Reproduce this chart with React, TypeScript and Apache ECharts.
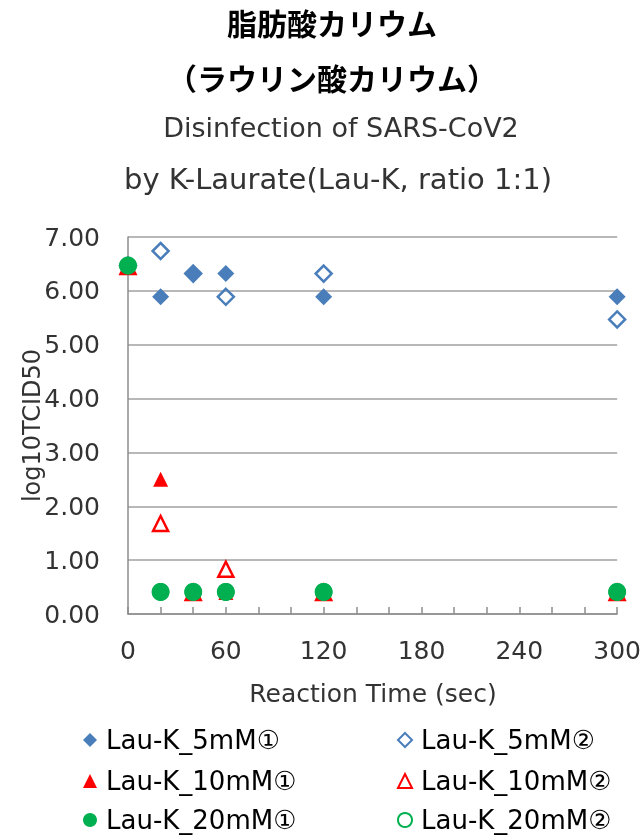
import React, { useEffect, useRef } from "react";
import * as echarts from "echarts";

const times = [0, 20, 40, 60, 120, 300];
const k5mM1 = [6.47, 5.89, 6.32, 6.32, 5.89, 5.89];
const k5mM2 = [6.47, 6.74, 6.32, 5.89, 6.32, 5.47];
const k10mM1 = [6.45, 2.5, 0.4, 0.4, 0.4, 0.4];
const k10mM2 = [6.45, 1.68, 0.4, 0.83, 0.4, 0.4];
const k20mM1 = [6.47, 0.41, 0.41, 0.41, 0.41, 0.41];
const k20mM2 = [6.47, 0.41, 0.41, 0.41, 0.41, 0.41];
const yTicks = [0, 1, 2, 3, 4, 5, 6, 7];
const xTicks = [0, 60, 120, 180, 240, 300];
const titleLines = ["脂肪酸カリウム", "（ラウリン酸カリウム）", "Disinfection of SARS-CoV2", "by K-Laurate(Lau-K, ratio 1:1)"];
const xAxisName = "Reaction Time (sec)";
const yAxisName = "log10TCID50";
const seriesNames = ["Lau-K_5mM①", "Lau-K_5mM②", "Lau-K_10mM①", "Lau-K_10mM②", "Lau-K_20mM①", "Lau-K_20mM②"];

const FONT = "'DejaVu Sans', 'Noto Sans CJK JP', sans-serif";
const JFONT = "'Noto Sans CJK JP', sans-serif";
const BLUE = "#4a7ebb";
const RED = "#ff0000";
const GREEN = "#00b050";
const TXT = "#333333";
const AXIS = "#8c8c8c";

const pts = (vals: number[]) => times.map((t, i) => [t, vals[i]]);

export default function App() {
  const ref = useRef<HTMLDivElement>(null);
  useEffect(() => {
    const chart = echarts.init(ref.current!, null, { renderer: "svg" });
    const mk = (name: string, vals: number[], symbol: string, color: string, hollow: boolean, size: number, z: number) => ({
      name,
      type: "scatter",
      data: pts(vals),
      symbol,
      symbolSize: size,
      z,
      itemStyle: hollow
        ? { color: "rgba(255,255,255,0)", borderColor: color, borderWidth: 2.5, opacity: 1 }
        : { color, borderWidth: 0, opacity: 1 },
    });
    const legendPos = [
      [78, 722], [392, 722],
      [78, 763], [392, 763],
      [78, 802], [392, 802],
    ];
    const legends = seriesNames.map((n, i) => ({
      data: [n],
      left: legendPos[i][0],
      top: legendPos[i][1],
      orient: "horizontal",
      itemWidth: 14,
      itemHeight: 14,
      textStyle: { fontFamily: FONT, fontSize: 26, color: "#000", lineHeight: 26, padding: [0, 0, 0, 4] },
    }));
    const tl = (text: string, x: number, y: number, size: number, bold: boolean, font: string, color: string) => ({
      type: "text",
      x,
      y,
      style: { text, x: 0, y: 0, textAlign: "center", textVerticalAlign: "middle", fontFamily: font, fontSize: size, fontWeight: bold ? "bold" : "normal", fill: color },
    });
    chart.setOption({
      animation: false,
      textStyle: { fontFamily: FONT },
      graphic: [
        tl(titleLines[0], 332, 22, 30, true, JFONT, "#000"),
        tl(titleLines[1], 332, 77, 30, true, JFONT, "#000"),
        tl(titleLines[2], 341, 127, 27, false, FONT, TXT),
        tl(titleLines[3], 338, 179, 29, false, FONT, TXT),
        tl(xAxisName, 373, 693, 25, false, FONT, TXT),
      ],
      grid: { left: 128, right: 25, top: 237, bottom: 222, show: false },
      xAxis: {
        type: "value",
        min: 0,
        max: 300,
        interval: 60,
        axisLine: { show: true, lineStyle: { color: AXIS, width: 1.5 } },
        axisTick: { show: true, inside: true, length: 7, lineStyle: { color: AXIS, width: 1.5 } },
        minorTick: { show: true, splitNumber: 3, length: 7, lineStyle: { color: AXIS, width: 1.5 } },
        axisLabel: { fontFamily: FONT, fontSize: 25, color: TXT, margin: 24, formatter: (v: number) => (xTicks.includes(v) ? String(v) : "") },
        splitLine: { show: false },
        minorSplitLine: { show: false },
      },
      yAxis: {
        type: "value",
        min: 0,
        max: 7,
        interval: 1,
        name: yAxisName,
        nameLocation: "middle",
        nameGap: 84,
        nameRotate: 90,
        nameMoveOverlap: false,
        nameTextStyle: { fontFamily: FONT, fontSize: 24, color: TXT },
        axisLine: { show: true, lineStyle: { color: AXIS, width: 1.5 } },
        axisTick: { show: false },
        axisLabel: { fontFamily: FONT, fontSize: 25, color: TXT, margin: 28, formatter: (v: number) => (yTicks.includes(v) ? v.toFixed(2) : "") },
        splitLine: { show: true, lineStyle: { color: "#a0a0a0", width: 1.5 } },
      },
      legend: legends,
      series: [
        mk(seriesNames[0], k5mM1, "diamond", BLUE, false, 17, 2),
        mk(seriesNames[1], k5mM2, "diamond", BLUE, true, 16, 3),
        mk(seriesNames[2], k10mM1, "triangle", RED, false, 15, 4),
        mk(seriesNames[3], k10mM2, "triangle", RED, true, 15, 5),
        mk(seriesNames[4], k20mM1, "circle", GREEN, false, 18, 7),
        mk(seriesNames[5], k20mM2, "circle", GREEN, true, 15, 6),
      ],
    });
    return () => chart.dispose();
  }, []);
  return <div ref={ref} style={{ position: "fixed", left: 0, top: 0, width: 644, height: 836 }} />;
}
